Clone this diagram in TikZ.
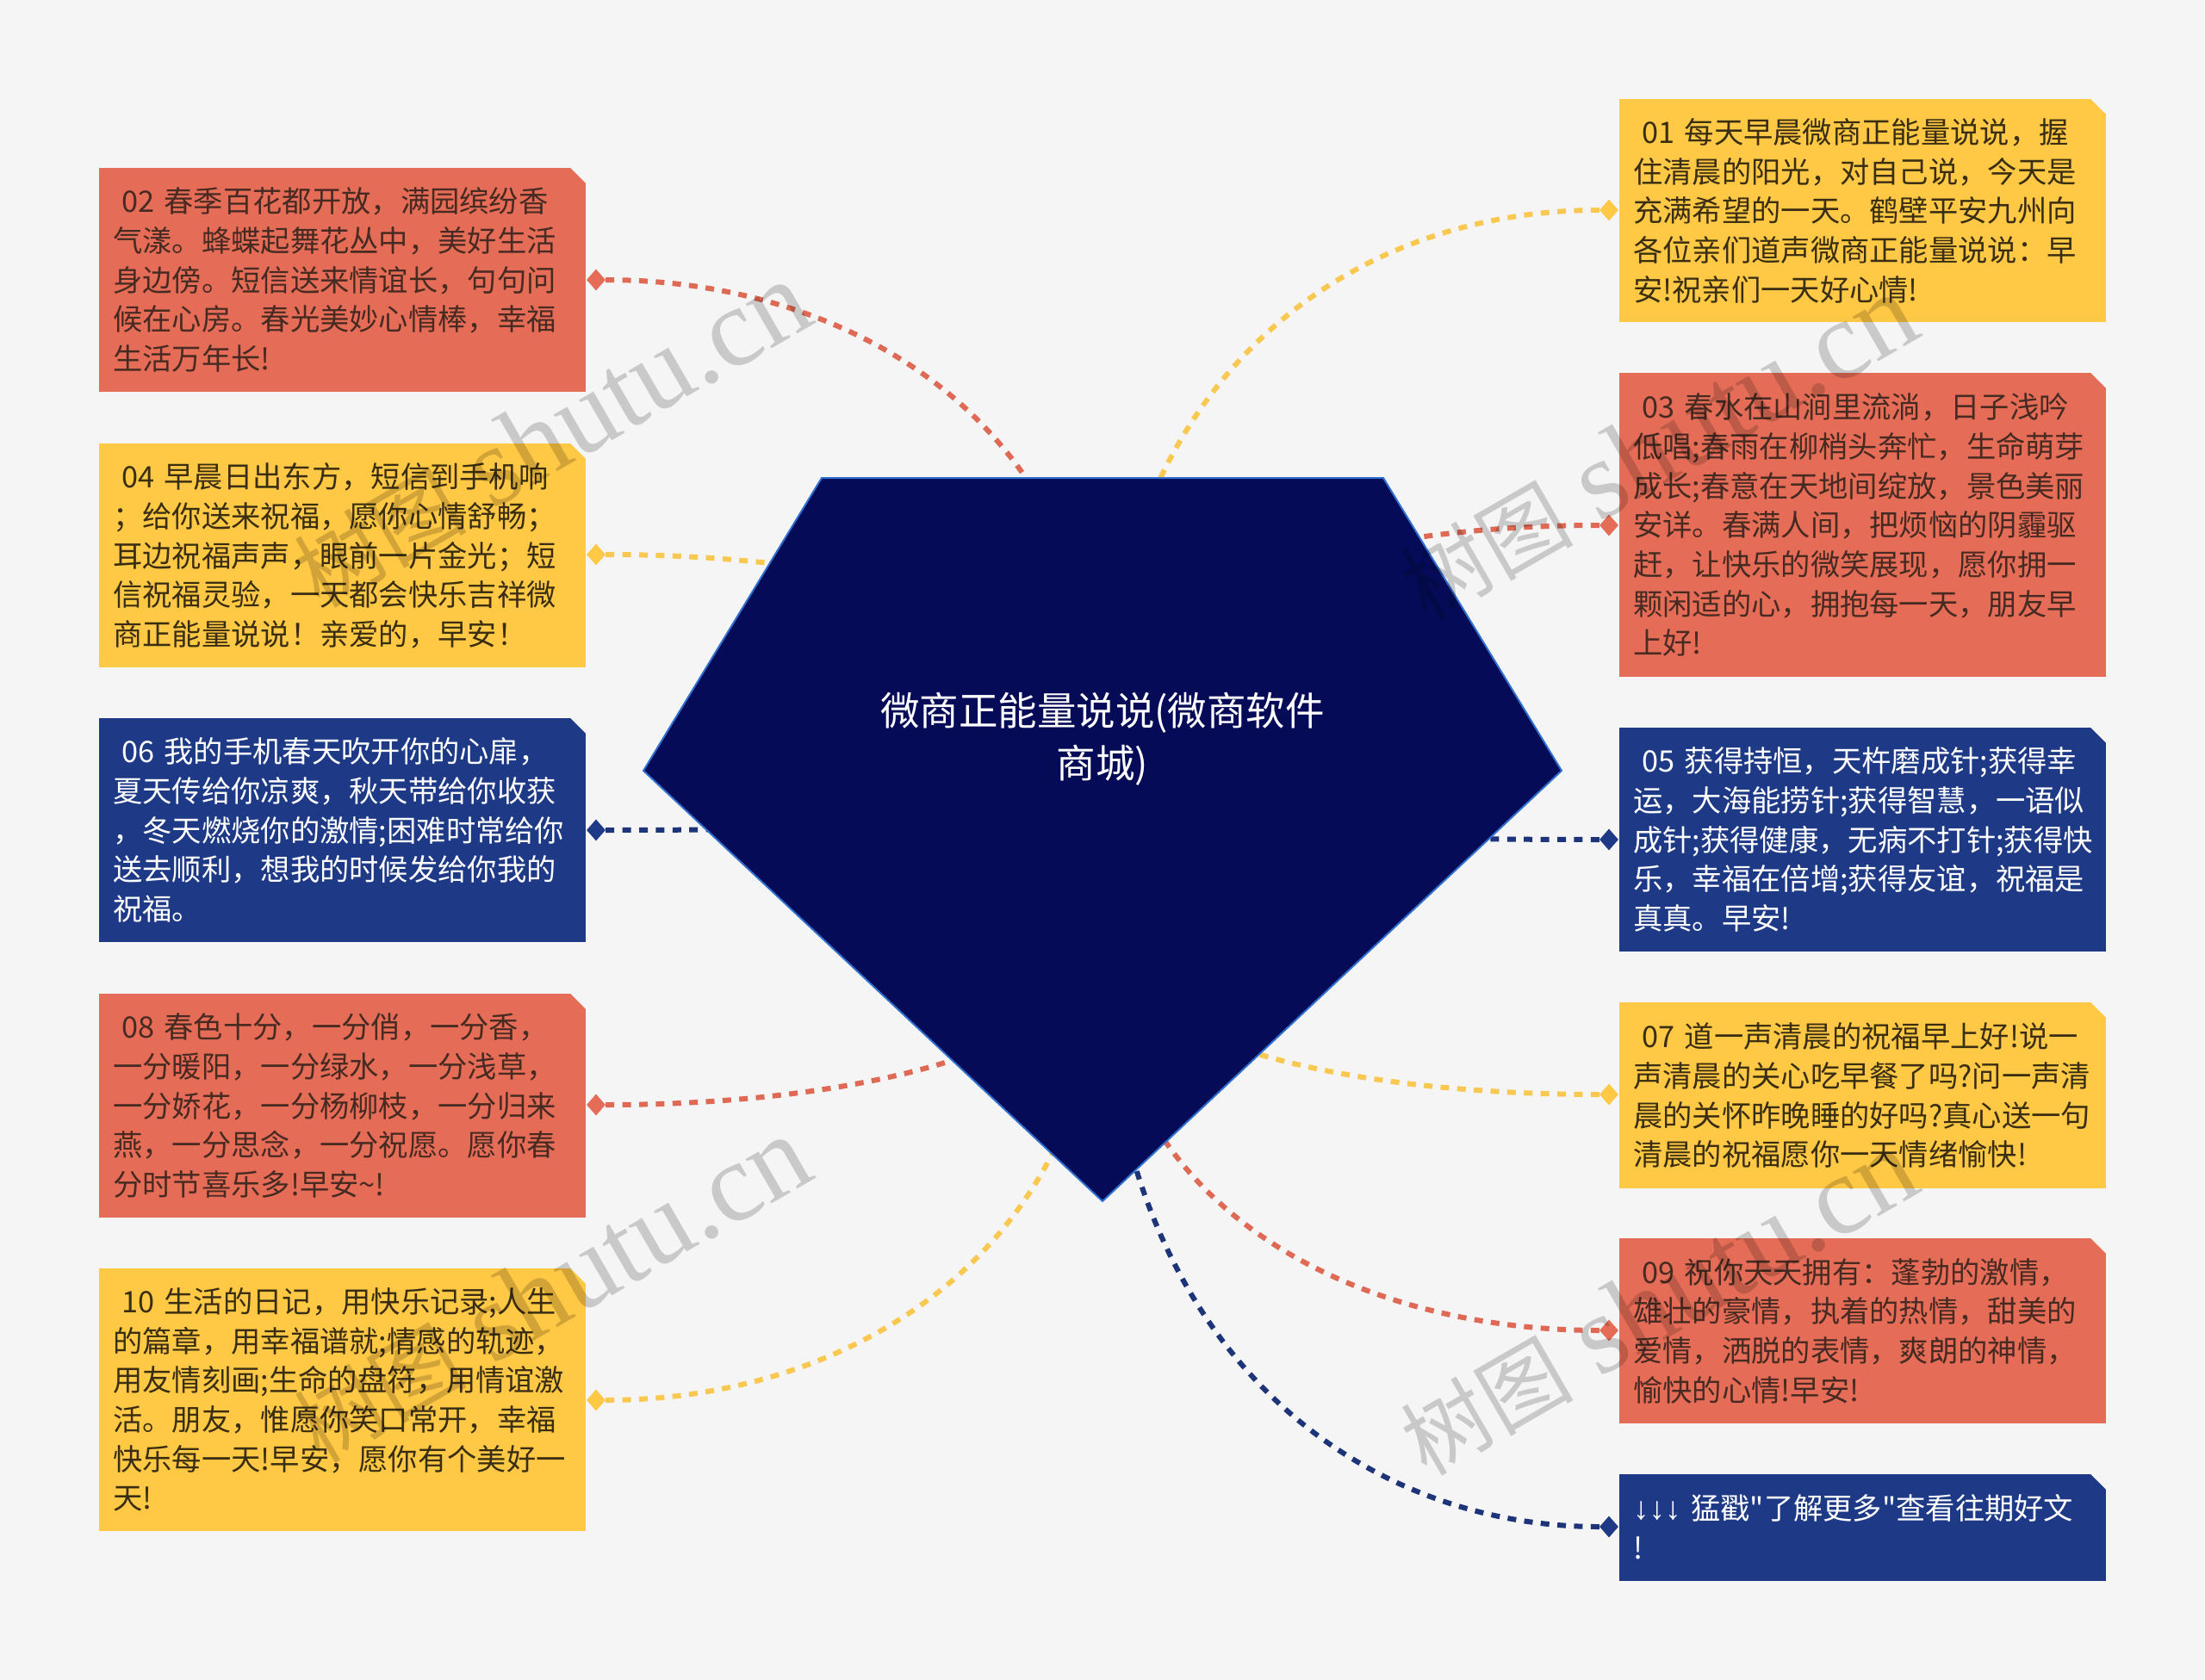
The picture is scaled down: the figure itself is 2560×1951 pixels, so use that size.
\documentclass[tikz,border=0pt]{standalone}
\usepackage{fontspec}
\newfontfamily\cjkfont{Noto Sans CJK SC}
\newfontfamily\wmlatin{Liberation Serif}
\newfontfamily\arrowfont{Liberation Sans}
\usetikzlibrary{shapes.geometric}
\definecolor{pagebg}{HTML}{F5F5F5}
\definecolor{cardyellow}{HTML}{FFC845}
\definecolor{cardred}{HTML}{E56D57}
\definecolor{cardblue}{HTML}{1E3A87}
\definecolor{hubfill}{HTML}{060B57}
\definecolor{hubedge}{HTML}{2F6FD0}
\definecolor{lineyellow}{HTML}{F9C850}
\definecolor{linered}{HTML}{DE6A56}
\definecolor{lineblue}{HTML}{1E3478}
\definecolor{inkyellow}{HTML}{3A2E12}
\definecolor{inkred}{HTML}{472A22}
\definecolor{markgray}{HTML}{D2D2D2}
\tikzset{
  card/.style={rectangle,anchor=north west,inner xsep=16pt,inner ysep=0pt,text width=533pt,align=left,
    font=\cjkfont\fontsize{34.3pt}{45.7pt}\selectfont},
  yellowcard/.style={card,fill=cardyellow,text=inkyellow},
  redcard/.style={card,fill=cardred,text=inkred},
  bluecard/.style={card,fill=cardblue,text=white},
  port/.style={shape=diamond,inner sep=0pt,minimum width=22pt,minimum height=25pt,draw=none},
  link/.style={line width=6pt,dash pattern=on 10pt off 9.4pt},
  watermark/.style={rotate=30,text=markgray,font=\fontsize{100pt}{100pt}\selectfont},
}
\newcommand{\cutcorner}[1]{\fill[pagebg] (#1.north east) ++(-18,0) -- ++(18,0) -- ++(0,18) -- cycle;}
\newcommand{\ind}{\hspace*{10pt}}
\newcommand{\marktext}{{\cjkfont 树图} {\wmlatin\fontsize{130pt}{130pt}\selectfont shutu.cn}}
\begin{document}
\begin{tikzpicture}[x=1pt,y=-1pt]
\fill[pagebg] (0,0) rectangle (2560,1951);
\useasboundingbox (0,0) rectangle (2560,1951);
\coordinate (hub) at (1280,850);
\coordinate (hublow) at (1280,1080);
% ports
\node[port,fill=cardyellow] (p01) at (1868,244) {};
\node[port,fill=cardred] (p02) at (692,325) {};
\node[port,fill=cardred] (p03) at (1868,610) {};
\node[port,fill=cardyellow] (p04) at (692,644) {};
\node[port,fill=cardblue] (p05) at (1868,975) {};
\node[port,fill=cardblue] (p06) at (692,964) {};
\node[port,fill=cardyellow] (p07) at (1868,1271) {};
\node[port,fill=cardred] (p08) at (692,1283) {};
\node[port,fill=cardred] (p09) at (1868,1545) {};
\node[port,fill=cardyellow] (p10) at (692,1626) {};
\node[port,fill=cardblue] (p11) at (1868,1773) {};
% connectors
\draw[link,lineyellow] (p01.west) .. controls +(-294,0) and +(15,-410) .. (hub);
\draw[link,linered] (p02.east) .. controls +(288,0) and +(-8,-358) .. (hub);
\draw[link,linered] (p03.west) .. controls +(-294,0) and +(0,-163) .. (hub);
\draw[link,lineyellow] (p04.east) .. controls +(288,0) and +(0,-140) .. (hub);
\draw[link,lineblue] (p05.west) .. controls +(-294,0) and +(0,118) .. (hub);
\draw[link,lineblue] (p06.east) .. controls +(288,0) and +(0,108) .. (hub);
\draw[link,lineyellow] (p07.west) .. controls +(-294,0) and +(8,130) .. (hublow);
\draw[link,linered] (p08.east) .. controls +(288,0) and +(0,138) .. (hublow);
\draw[link,linered] (p09.west) .. controls +(-294,0) and +(0,316) .. (hublow);
\draw[link,lineyellow] (p10.east) .. controls +(288,0) and +(0,371) .. (hublow);
\draw[link,lineblue] (p11.west) .. controls +(-294,0) and +(0,471) .. (hublow);
% hub
\fill[hubfill,draw=hubedge,line width=2pt] (954,555) -- (1606,555) -- (1813,895) -- (1280,1395) -- (747,895) -- cycle;
\node[inner sep=0pt,align=center,text=white,font=\cjkfont\fontsize{45.5pt}{61pt}\selectfont] (hubtext) at (1280,858)
  {微商正能量说说(微商软件\\商城)};
% left cards
\node[redcard,minimum height=260pt] (b02) at (115,195) {\rule{0pt}{36pt}\ind 02 春季百花都开放，满园缤纷香\\气漾。蜂蝶起舞花丛中，美好生活\\身边傍。短信送来情谊长，句句问\\候在心房。春光美妙心情棒，幸福\\生活万年长!\rule[-10pt]{0pt}{1pt}};
\cutcorner{b02}
\node[yellowcard,minimum height=260pt] (b04) at (115,515) {\rule{0pt}{36pt}\ind 04 早晨日出东方，短信到手机响\\；给你送来祝福，愿你心情舒畅；\\耳边祝福声声，眼前一片金光；短\\信祝福灵验，一天都会快乐吉祥微\\商正能量说说！亲爱的，早安！\rule[-10pt]{0pt}{1pt}};
\cutcorner{b04}
\node[bluecard,minimum height=260pt] (b06) at (115,834) {\rule{0pt}{36pt}\ind 06 我的手机春天吹开你的心扉，\\夏天传给你凉爽，秋天带给你收获\\，冬天燃烧你的激情;困难时常给你\\送去顺利，想我的时候发给你我的\\祝福。\rule[-10pt]{0pt}{1pt}};
\cutcorner{b06}
\node[redcard,minimum height=260pt] (b08) at (115,1154) {\rule{0pt}{36pt}\ind 08 春色十分，一分俏，一分香，\\一分暖阳，一分绿水，一分浅草，\\一分娇花，一分杨柳枝，一分归来\\燕，一分思念，一分祝愿。愿你春\\分时节喜乐多!早安\textasciitilde!\rule[-10pt]{0pt}{1pt}};
\cutcorner{b08}
\node[yellowcard,minimum height=305pt] (b10) at (115,1473) {\rule{0pt}{36pt}\ind 10 生活的日记，用快乐记录;人生\\的篇章，用幸福谱就;情感的轨迹，\\用友情刻画;生命的盘符，用情谊激\\活。朋友，惟愿你笑口常开，幸福\\快乐每一天!早安，愿你有个美好一\\天!\rule[-10pt]{0pt}{1pt}};
\cutcorner{b10}
% right cards
\node[yellowcard,minimum height=259pt] (b01) at (1880,115) {\rule{0pt}{36pt}\ind 01 每天早晨微商正能量说说，握\\住清晨的阳光，对自己说，今天是\\充满希望的一天。鹤壁平安九州向\\各位亲们道声微商正能量说说：早\\安!祝亲们一天好心情!\rule[-10pt]{0pt}{1pt}};
\cutcorner{b01}
\node[redcard,minimum height=353pt] (b03) at (1880,433) {\rule{0pt}{36pt}\ind 03 春水在山涧里流淌，日子浅吟\\低唱;春雨在柳梢头奔忙，生命萌芽\\成长;春意在天地间绽放，景色美丽\\安详。春满人间，把烦恼的阴霾驱\\赶，让快乐的微笑展现，愿你拥一\\颗闲适的心，拥抱每一天，朋友早\\上好!\rule[-10pt]{0pt}{1pt}};
\cutcorner{b03}
\node[bluecard,minimum height=260pt] (b05) at (1880,845) {\rule{0pt}{36pt}\ind 05 获得持恒，天杵磨成针;获得幸\\运，大海能捞针;获得智慧，一语似\\成针;获得健康，无病不打针;获得快\\乐，幸福在倍增;获得友谊，祝福是\\真真。早安!\rule[-10pt]{0pt}{1pt}};
\cutcorner{b05}
\node[yellowcard,minimum height=216pt] (b07) at (1880,1164) {\rule{0pt}{36pt}\ind 07 道一声清晨的祝福早上好!说一\\声清晨的关心吃早餐了吗?问一声清\\晨的关怀昨晚睡的好吗?真心送一句\\清晨的祝福愿你一天情绪愉快!\rule[-10pt]{0pt}{1pt}};
\cutcorner{b07}
\node[redcard,minimum height=215pt] (b09) at (1880,1438) {\rule{0pt}{36pt}\ind 09 祝你天天拥有：蓬勃的激情，\\雄壮的豪情，执着的热情，甜美的\\爱情，洒脱的表情，爽朗的神情，\\愉快的心情!早安!\rule[-10pt]{0pt}{1pt}};
\cutcorner{b09}
\node[bluecard,minimum height=124pt] (b11) at (1880,1712) {\rule{0pt}{36pt}{\arrowfont\fontsize{37pt}{45.7pt}\selectfont ↓↓↓} 猛戳"了解更多"查看往期好文\\!\rule[-10pt]{0pt}{1pt}};
\cutcorner{b11}
% watermarks
\begin{scope}[blend mode=multiply]
\node[watermark] (w1) at (640,505) {\marktext};
\node[watermark] (w2) at (1925,520) {\marktext};
\node[watermark] (w3) at (640,1498) {\marktext};
\node[watermark] (w4) at (1925,1513) {\marktext};
\end{scope}
\end{tikzpicture}
\end{document}
